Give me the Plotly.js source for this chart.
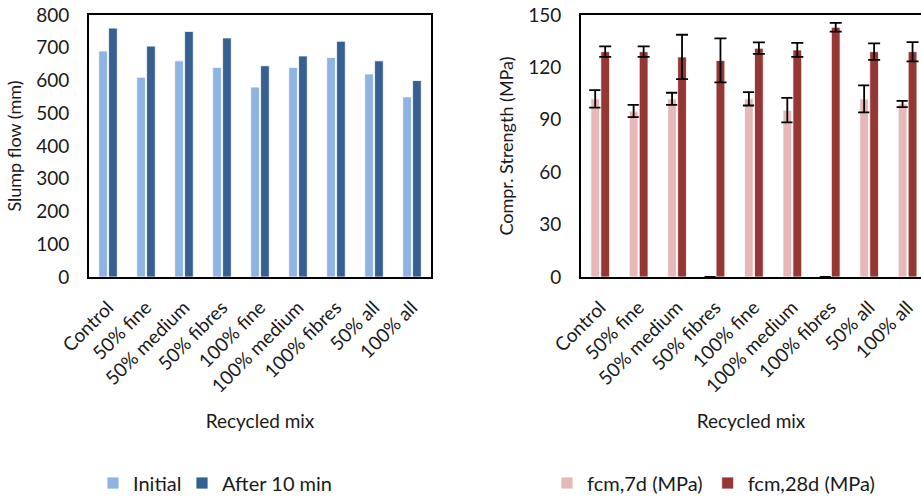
<!DOCTYPE html>
<html>
<head>
<meta charset="utf-8">
<script src="https://cdn.plot.ly/plotly-3.0.1.min.js"></script>
<style>html,body{margin:0;padding:0;background:#fff;}#chart{width:921px;height:497px;}</style>
</head>
<body>
<div id="chart"></div>
<script>
const categories = ["Control", "50% fine", "50% medium", "50% fibres", "100% fine", "100% medium", "100% fibres", "50% all", "100% all"];
const slumpInitial = [690, 610, 660, 640, 580, 640, 670, 620, 550];
const slumpAfter10 = [760, 705, 750, 730, 645, 675, 720, 660, 600];
const fcm7d = [102, 95, 102, 0, 102, 95.5, 0, 102, 99];
const fcm7dErr = [5, 3.5, 3.5, 0, 3.8, 7, 0, 7.7, 1.8];
const fcm28d = [129, 129, 126, 124, 131, 130, 143, 129, 129];
const fcm28dErr = [3, 3, 12.7, 12.6, 3.3, 4, 2.5, 4.7, 5.5];

const FONT = "Lato, 'Open Sans', sans-serif";
const TXT = "#1a1a1a";

const traces = [
  {type: "bar", x: categories, y: slumpInitial, name: "Initial", xaxis: "x", yaxis: "y", legend: "legend",
   legendwidth: 44,
   marker: {color: "#8EB4E3", line: {color: "rgba(255,255,255,0.8)", width: 1}}},
  {type: "bar", x: categories, y: slumpAfter10, name: "After 10 min", xaxis: "x", yaxis: "y", legend: "legend",
   marker: {color: "#376092", line: {color: "rgba(255,255,255,0.8)", width: 1}}},
  {type: "bar", x: categories, y: fcm7d, name: "fcm,7d (MPa)", xaxis: "x2", yaxis: "y2", legend: "legend2",
   error_y: {type: "data", array: fcm7dErr, visible: true, color: "#000", thickness: 1.8, width: 6},
   marker: {color: "#E6B9B8", line: {color: "rgba(255,255,255,0.8)", width: 1}}},
  {type: "bar", x: categories, y: fcm28d, name: "fcm,28d (MPa)", xaxis: "x2", yaxis: "y2", legend: "legend2",
   error_y: {type: "data", array: fcm28dErr, visible: true, color: "#000", thickness: 1.8, width: 6},
   marker: {color: "#953735", line: {color: "rgba(255,255,255,0.8)", width: 1}}}
];

const axisCommon = {showgrid: false, zeroline: false, showline: true, linecolor: "#000", linewidth: 2,
  ticks: "", tickfont: {family: FONT, size: 19, color: TXT}};
const titleFont = {family: FONT, size: 19, color: TXT};

const layout = {
  width: 921, height: 497,
  margin: {l: 0, r: 0, t: 0, b: 0, autoexpand: false},
  paper_bgcolor: "#fff", plot_bgcolor: "#fff",
  barmode: "group", bargap: 0.48, bargroupgap: 0.12,
  font: {family: FONT, color: TXT},
  xaxis: Object.assign({}, axisCommon, {domain: [89/921, 431/921], anchor: "y", mirror: true,
    tickangle: -45, range: [-0.5, 8.5], ticklabelstandoff: 10,
    title: {text: "Recycled mix", font: titleFont, standoff: 19}}),
  yaxis: Object.assign({}, axisCommon, {domain: [1-277/497, 1-15/497], anchor: "x", mirror: true,
    range: [0, 800], dtick: 100, ticklabelstandoff: 14,
    title: {text: "Slump flow (mm)", font: {family: FONT, size: 18, color: TXT}, standoff: 10}}),
  xaxis2: Object.assign({}, axisCommon, {domain: [581/921, 1], anchor: "y2", mirror: true,
    tickangle: -45, range: [-0.5, 8.35], ticklabelstandoff: 10,
    title: {text: "Recycled mix", font: titleFont, standoff: 19}}),
  yaxis2: Object.assign({}, axisCommon, {domain: [1-277/497, 1-15/497], anchor: "x2", mirror: true,
    range: [0, 150], dtick: 30, ticklabelstandoff: 14,
    title: {text: "Compr. Strength (MPa)", font: {family: FONT, size: 18, color: TXT}, standoff: 10}}),
  legend: {orientation: "h", x: 93/921, y: 14/497, xanchor: "left", yanchor: "middle",
    font: {family: FONT, size: 20, color: TXT}, bgcolor: "rgba(0,0,0,0)", itemwidth: 30},
  legend2: {orientation: "h", x: 547/921, y: 14/497, xanchor: "left", yanchor: "middle",
    font: {family: FONT, size: 20, color: TXT}, bgcolor: "rgba(0,0,0,0)", itemwidth: 30}
};

Plotly.newPlot("chart", traces, layout, {displayModeBar: false, staticPlot: true});
</script>
</body>
</html>
